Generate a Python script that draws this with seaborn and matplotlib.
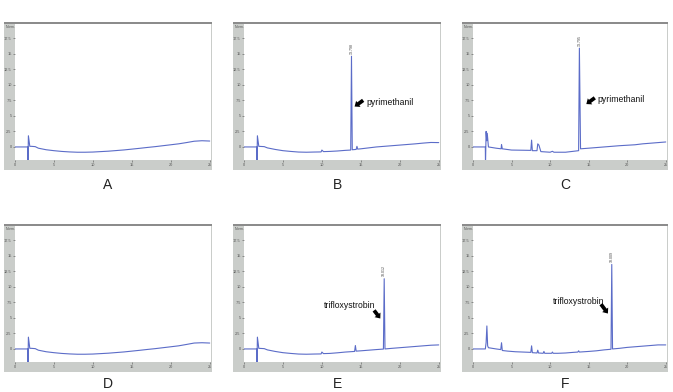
import matplotlib
matplotlib.use("Agg")
import matplotlib.pyplot as plt
from matplotlib.patches import Rectangle
import seaborn as sns

# ---------------- data ----------------
panel_letters = ["A", "B", "C", "D", "E", "F"]
y_ticks = [0, 2.5, 5, 7.5, 10, 12.5, 15, 17.5]
y_tick_labels = ["0", "2.5", "5", "7.5", "10", "12.5", "15", "17.5"]
x_ticks = [0, 5, 10, 15, 20, 25]
x_tick_labels = ["0", "5", "10", "15", "20", "25"]

A_t = [0, 1.65, 1.66, 1.72, 1.9, 2.1, 2.6, 3, 4, 5, 6, 7, 8, 9, 10, 11, 12, 13, 14, 15,
       16, 17, 18, 19, 20, 21, 22, 23, 24, 25]
A_y = [0, 0, -3, 1.8, 0.1, 0.1, 0.05, -0.2, -0.45, -0.6, -0.72, -0.8, -0.85, -0.85, -0.82,
       -0.75, -0.68, -0.58, -0.48, -0.35, -0.22, -0.08, 0.05, 0.2, 0.35, 0.5, 0.7, 0.92, 1.0, 0.95]

B_t = [0, 1.65, 1.66, 1.72, 1.9, 2.6, 3, 4, 5, 6, 7, 8, 9, 9.9, 10.0, 10.2, 11, 12, 13,
       13.7, 13.8, 13.9, 14.4, 14.5, 14.6, 15, 16, 17, 18, 19, 20, 21, 22, 23, 24, 25]
B_y = [0, 0, -3, 1.8, 0.1, 0.05, -0.15, -0.4, -0.6, -0.72, -0.82, -0.85, -0.82, -0.8, -0.5,
       -0.75, -0.72, -0.65, -0.55, -0.5, 14.6, -0.45, -0.4, 0.1, -0.35, -0.3, -0.15, 0.0,
       0.1, 0.2, 0.3, 0.4, 0.5, 0.62, 0.72, 0.7]

C_t = [0, 1.6, 1.62, 1.7, 1.78, 1.85, 2.0, 3.0, 3.65, 3.7, 3.8, 5.0, 7.5, 7.6, 7.7, 8.3,
       8.4, 8.55, 8.8, 10.0, 10.3, 10.5, 12.0, 13.7, 13.8, 13.95, 15, 17, 19, 21, 22, 23, 24, 25]
C_y = [0, 0, -3, 2.5, 1.0, 2.2, 0.0, -0.2, -0.3, 0.4, -0.3, -0.5, -0.55, 1.1, -0.6, -0.6,
       0.5, 0.3, -0.75, -0.85, -0.7, -0.85, -0.85, -0.6, 15.9, -0.3, -0.2, 0.0, 0.2, 0.35,
       0.5, 0.6, 0.7, 0.8]

D_t = [0, 1.65, 1.66, 1.72, 1.9, 2.1, 2.6, 3, 4, 5, 6, 7, 8, 9, 10, 11, 12, 13, 14, 15,
       16, 17, 18, 19, 20, 21, 22, 23, 24, 25]
D_y = [0, 0, -3, 1.9, 0.1, 0.1, 0.05, -0.2, -0.45, -0.6, -0.72, -0.8, -0.85, -0.85, -0.82,
       -0.75, -0.68, -0.58, -0.48, -0.35, -0.22, -0.08, 0.05, 0.2, 0.35, 0.5, 0.72, 0.95, 1.0, 0.95]

E_t = [0, 1.65, 1.66, 1.72, 1.9, 2.6, 3, 4, 5, 6, 7, 8, 9, 9.9, 10.0, 10.2, 11, 12, 13,
       14.2, 14.3, 14.4, 15, 16, 17, 17.9, 18.0, 18.1, 19, 20, 21, 22, 23, 24, 25]
E_y = [0, 0, -3, 1.9, 0.1, 0.05, -0.15, -0.4, -0.6, -0.72, -0.82, -0.85, -0.82, -0.8, -0.5,
       -0.75, -0.72, -0.62, -0.5, -0.4, 0.55, -0.35, -0.3, -0.2, -0.1, -0.02, 11.3, 0.0,
       0.1, 0.2, 0.3, 0.4, 0.5, 0.6, 0.65]

F_t = [0, 1.6, 1.7, 1.8, 1.9, 2.0, 2.5, 3.0, 3.6, 3.7, 3.8, 4.5, 5.5, 6.5, 7.5, 7.6, 7.7,
       8.3, 8.4, 8.5, 9.1, 9.2, 9.3, 10.2, 10.3, 10.4, 11, 12, 13, 13.6, 13.7, 13.8, 15, 16,
       17, 17.9, 18.0, 18.1, 19, 20, 21, 22, 23, 24, 25]
F_y = [0, 0, 1.0, 3.7, 0.5, 0.2, 0.1, 0.0, -0.1, 1.0, -0.25, -0.35, -0.45, -0.5, -0.55,
       0.5, -0.6, -0.65, -0.2, -0.65, -0.7, -0.4, -0.7, -0.7, -0.5, -0.7, -0.7, -0.65, -0.55,
       -0.5, -0.3, -0.5, -0.4, -0.3, -0.15, -0.05, 13.6, 0.0, 0.1, 0.25, 0.35, 0.45, 0.55,
       0.65, 0.65]

traces = {"A": (A_t, A_y), "B": (B_t, B_y), "C": (C_t, C_y),
          "D": (D_t, D_y), "E": (E_t, E_y), "F": (F_t, F_y)}

# retention-time labels: (time, label, y position)
rt_labels = {"B": (13.8, "13.798", 14.9), "C": (13.8, "13.795", 16.3),
             "E": (18.0, "18.012", 11.7), "F": (18.0, "18.009", 14.0)}

# compound annotations: (text, text x, text y, arrow tail, arrow head)
annotations = {
    "B": ("pyrimethanil", 15.7, 7.1, (15.3, 7.5), (14.2, 6.5)),
    "C": ("pyrimethanil", 16.2, 7.65, (15.8, 7.9), (14.7, 6.9)),
    "E": ("trifloxystrobin", 10.3, 7.0, (16.7, 6.2), (17.5, 4.9)),
    "F": ("trifloxystrobin", 10.4, 7.7, (16.6, 7.2), (17.5, 5.7)),
}

# ---------------- layout ----------------
W, H = 673, 392
frames = {"A": (4, 22, 212, 170), "B": (233, 22, 441, 170), "C": (462, 22, 668, 170),
          "D": (4, 224, 212, 372), "E": (233, 224, 441, 372), "F": (462, 224, 668, 372)}
letter_pos = {"A": (108, 185), "B": (337, 185), "C": (565, 185),
              "D": (108, 384), "E": (337, 384), "F": (565, 384)}

sns.set_style("white")
plt.rcParams["font.family"] = ["Liberation Sans", "DejaVu Sans"]

fig = plt.figure(figsize=(W / 100, H / 100), dpi=100)
fig.patch.set_facecolor("white")

line_color = "#5b6cc8"

for key in panel_letters:
    l, t, r, b = frames[key]
    # gray frame
    fig.add_artist(Rectangle((l / W, 1 - b / H), (r - l) / W, (b - t) / H,
                             transform=fig.transFigure, facecolor="#cacdca",
                             edgecolor="none", zorder=0))
    fig.add_artist(Rectangle((l / W, 1 - (t + 2.2) / H), (r - l) / W, 2.2 / H,
                             transform=fig.transFigure, facecolor="#8c8c8c",
                             edgecolor="none", zorder=3))
    pl, pt, pr, pb = l + 11, t + 2.2, r - 1.5, b - 10
    ax = fig.add_axes([pl / W, 1 - pb / H, (pr - pl) / W, (pb - pt) / H])
    ax.set_facecolor("white")
    tt, yy = traces[key]
    sns.lineplot(x=tt, y=yy, ax=ax, color=line_color, linewidth=0.8,
                 estimator=None, sort=False)
    ax.set_xlim(0, 25.1)
    ax.set_ylim(-2.1, 19.75)
    ax.set_yticks(y_ticks)
    ax.set_yticklabels(y_tick_labels)
    ax.set_xticks(x_ticks)
    ax.set_xticklabels(x_tick_labels)
    ax.tick_params(axis="both", which="both", length=1.2, width=0.4, pad=1.2,
                   labelsize=2.8, colors="#555555", left=True, bottom=True)
    for s in ax.spines.values():
        s.set_visible(False)
    ax.set_xlabel("")
    ax.set_ylabel("")
    fig.text((l + 2) / W, 1 - (t + 5) / H, "Norm.", fontsize=2.6, color="#555555",
             ha="left", va="center")

    if key in rt_labels:
        xr, lab, yr = rt_labels[key]
        ax.text(xr, yr, lab, rotation=90, fontsize=2.6, color="#444444",
                ha="center", va="bottom")
    if key in annotations:
        txt, tx, ty, tail, head = annotations[key]
        ax.text(tx, ty, txt, fontsize=6.2, color="#111111", ha="left", va="center",
                family=["Liberation Sans Narrow", "Liberation Sans", "DejaVu Sans"])
        ax.annotate("", xy=head, xytext=tail,
                    arrowprops=dict(arrowstyle="simple,head_length=0.55,head_width=0.9,tail_width=0.45",
                                    mutation_scale=6, color="black", lw=0,
                                    shrinkA=0, shrinkB=0))

    lx, ly = letter_pos[key]
    fig.text(lx / W, 1 - ly / H, key, fontsize=10, color="#222222",
             ha="center", va="center")

fig.savefig("out.png", dpi=100)
